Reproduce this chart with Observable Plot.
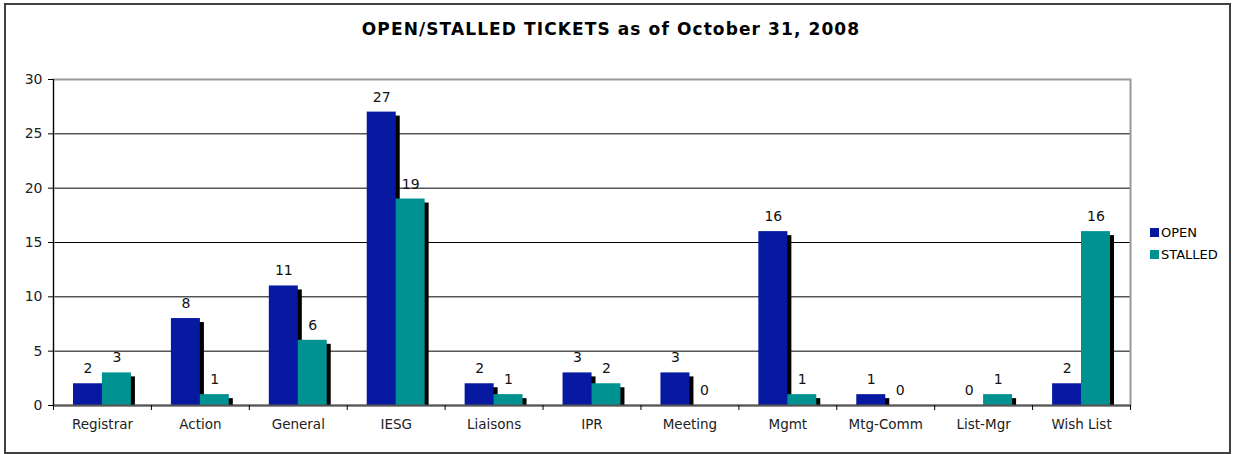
<!DOCTYPE html>
<html>
<head>
<meta charset="utf-8">
<script src="https://cdn.jsdelivr.net/npm/d3@7"></script>
<script src="https://cdn.jsdelivr.net/npm/@observablehq/plot@0.6"></script>
<style>
  html, body { margin: 0; padding: 0; background: #fff; }
  #wrap { position: relative; width: 1233px; height: 454px; overflow: hidden; font-family: "DejaVu Sans", sans-serif; }
  #border { position: absolute; left: 4px; top: 3px; width: 1223px; height: 447px; border: 2px solid #404040; }
  #title { position: absolute; left: 0; top: 19px; width: 1222px; text-align: center; font-weight: bold; font-size: 17px; letter-spacing: 1.1px; color: #000; }
  #chart { position: absolute; left: 0; top: 0; }
  .leg { position: absolute; left: 1150px; font-size: 13px; color: #000; line-height: 13px; display: flex; align-items: center; }
  .leg span.sw { display: inline-block; width: 9px; height: 9px; margin-right: 2px; }
</style>
</head>
<body>
<div id="wrap">
  <div id="border"></div>
  <div id="chart"></div>
  <div id="title">OPEN/STALLED TICKETS as of October 31, 2008</div>
  <div id="legend"></div>
</div>
<script>
const categories = ["Registrar","Action","General","IESG","Liaisons","IPR","Meeting","Mgmt","Mtg-Comm","List-Mgr","Wish List"];
const openValues = [2, 8, 11, 27, 2, 3, 3, 16, 1, 0, 2];
const stalledValues = [3, 1, 6, 19, 1, 2, 0, 1, 0, 1, 16];
const seriesNames = ["OPEN", "STALLED"];
const seriesColors = ["#0619A0", "#009191"];
const yTicks = [0, 5, 10, 15, 20, 25, 30];

const W = 1233, H = 454, mL = 53, mR = 103, mT = 79, mB = 49;
const bw = (W - mL - mR) / categories.length;
const padOuter = 20, barW = 29;
const innerGap = bw - padOuter - barW;
const labelOffset = bw / 2 - padOuter - barW / 2;

const openRows = categories.map((c, i) => ({cat: c, value: openValues[i]}));
const stalledRows = categories.map((c, i) => ({cat: c, value: stalledValues[i]}));

const chart = Plot.plot({
  width: W, height: H,
  marginLeft: mL, marginRight: mR, marginTop: mT, marginBottom: mB,
  x: {domain: categories, padding: 0, round: false, axis: null, label: null},
  y: {domain: [0, 30], axis: null, label: null},
  style: {fontFamily: "DejaVu Sans, sans-serif", fontSize: "14px", background: "transparent", color: "#000"},
  marks: [
    Plot.gridY(yTicks.filter(t => t > 0 && t < 30), {stroke: "#000", strokeOpacity: 1, strokeWidth: 1}),
    Plot.frame({stroke: "#999", strokeWidth: 2}),
    // shadows
    Plot.barY(openRows, {x: "cat", y: "value", fill: "#000", insetLeft: padOuter, insetRight: innerGap, dx: 4, dy: 4, clip: true}),
    Plot.barY(stalledRows, {x: "cat", y: "value", fill: "#000", insetLeft: innerGap, insetRight: padOuter, dx: 4, dy: 4, clip: true}),
    // bars
    Plot.barY(openRows, {x: "cat", y: "value", fill: seriesColors[0], insetLeft: padOuter, insetRight: innerGap}),
    Plot.barY(stalledRows, {x: "cat", y: "value", fill: seriesColors[1], insetLeft: innerGap, insetRight: padOuter}),
    // baseline and left axis line
    Plot.ruleY([0], {stroke: "#555", strokeWidth: 2}),
    Plot.frame({anchor: "left", stroke: "#000", strokeWidth: 1}),
    // value labels
    Plot.text(openRows, {x: "cat", y: "value", text: d => String(d.value), dx: -labelOffset, dy: -15, fontSize: 14, fill: "#111"}),
    Plot.text(stalledRows, {x: "cat", y: "value", text: d => String(d.value), dx: labelOffset, dy: -15, fontSize: 14, fill: "#111"}),
    // axes
    Plot.axisY(yTicks, {tickSize: 5, tickPadding: 6, fontSize: 14, fill: "#222", stroke: "#000", label: null}),
    Plot.axisX({tickSize: 0, tickPadding: 14, fontSize: 13.5, fill: "#222", label: null}),
    // category boundary ticks below the axis
    Plot.ruleX(categories, {x: d => d, y1: 0, y2: 0, insetBottom: -5, dx: -bw / 2, stroke: "#000"}),
    Plot.ruleX(categories.slice(-1), {x: d => d, y1: 0, y2: 0, insetBottom: -5, dx: bw / 2, stroke: "#000"})
  ]
});
document.getElementById("chart").appendChild(chart);

const legend = document.getElementById("legend");
seriesNames.forEach((name, i) => {
  const el = document.createElement("div");
  el.className = "leg";
  el.style.top = (226 + i * 22) + "px";
  el.innerHTML = `<span class="sw" style="background:${seriesColors[i]}"></span>${name}`;
  legend.appendChild(el);
});
</script>
</body>
</html>
